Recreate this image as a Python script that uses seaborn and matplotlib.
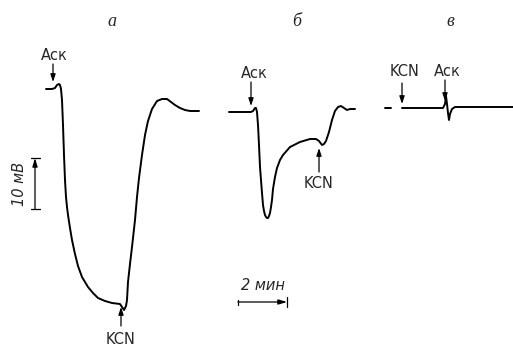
import matplotlib
matplotlib.use('Agg')
import matplotlib.pyplot as plt
import seaborn as sns
import pandas as pd

# traces (x = time, y = potential, in picture units)
trace_a_x = [46, 52, 55, 57, 59, 60, 61, 62, 63, 64, 65, 66, 67, 68, 70, 72, 75, 78, 82, 88,
             93, 98, 105, 112, 120, 122, 124, 126, 127, 128, 130, 132, 135, 137, 139, 142,
             145, 148, 152, 157, 162, 167, 171, 175, 180, 185, 190, 199]
trace_a_y = [89, 89, 88, 85, 84, 85, 89, 100, 125, 155, 180, 197, 207, 215, 228, 240, 254, 266,
             277, 287, 293, 298, 301, 303, 304, 307, 310, 306, 300, 282, 264, 247, 220, 197,
             178, 155, 135, 121, 109, 101, 99, 99, 102, 105, 108, 110, 111, 111]

trace_b_x = [229, 251, 253, 255, 256, 257, 258, 259, 260, 262, 263, 264, 265, 266, 267, 268,
             269, 270, 271, 272, 273, 275, 277, 280, 283, 290, 300, 310, 316, 319, 322, 324,
             326, 329, 332, 335, 338, 341, 344, 347, 350, 355]
trace_b_y = [112, 112, 111, 108, 108, 112, 125, 145, 167, 193, 205, 211, 215, 217, 218, 218,
             216, 213, 207, 200, 189, 177, 168, 160, 155, 147, 142, 139, 139, 141, 145, 144,
             141, 132, 120, 111, 107, 106, 108, 110, 109, 109]

trace_c_pre_x = [385, 391]
trace_c_pre_y = [108, 108]
trace_c_x = [402, 443, 445, 446, 447, 448, 449, 450, 452, 455, 513]
trace_c_y = [108, 108, 104, 96, 104, 113, 120, 114, 109, 107, 107]

panel_labels = ['а', 'б', 'в']
panel_x = [112, 297, 450]

# (text, text x, text y, arrow tail y, arrow head y, arrow x)
marks = [
    ('Аск', 54, 56, 64, 82, 53),
    ('KCN', 121, 339, 326, 307, 121),
    ('Аск', 254, 73, 82, 106, 251),
    ('KCN', 319, 183, 172, 148, 319),
    ('KCN', 405, 72, 83, 104, 402),
    ('Аск', 447, 72, 80, 101, 445),
]

sns.set_style('white')
plt.rcParams['font.family'] = ['DejaVu Sans']

fig = plt.figure(figsize=(5.13, 3.52), dpi=100)
ax = fig.add_axes([0, 0, 1, 1])

lw = 1.4
for xs, ys in [(trace_a_x, trace_a_y), (trace_b_x, trace_b_y),
               (trace_c_pre_x, trace_c_pre_y), (trace_c_x, trace_c_y)]:
    df = pd.DataFrame({'t': xs, 'v': ys})
    sns.lineplot(data=df, x='t', y='v', sort=False, estimator=None,
                 color='black', lw=lw, ax=ax)

for lab, px in zip(panel_labels, panel_x):
    ax.text(px, 22, lab, fontsize=13, style='italic', family=['Liberation Serif', 'DejaVu Serif'],
            ha='center', va='center')

for txt, tx, ty, y0, y1, axx in marks:
    ax.text(tx, ty, txt, fontsize=10.5, ha='center', va='center')
    ax.annotate('', xy=(axx, y1), xytext=(axx, y0),
                arrowprops=dict(arrowstyle='-|>,head_length=0.45,head_width=0.15',
                                color='black', lw=0.9, shrinkA=0, shrinkB=0))

# 10 mV scale bar
ax.annotate('', xy=(35, 158), xytext=(35, 209),
            arrowprops=dict(arrowstyle='-|>,head_length=0.5,head_width=0.15',
                            color='black', lw=0.9, shrinkA=0, shrinkB=0))
ax.plot([31, 40], [158, 158], color='black', lw=0.9)
ax.plot([31, 40], [209, 209], color='black', lw=0.9)
ax.text(20, 184, '10 мВ', rotation=90, fontsize=10.5, style='italic',
        ha='center', va='center')

# 2 min scale bar
ax.annotate('', xy=(287, 302), xytext=(238, 302),
            arrowprops=dict(arrowstyle='-|>,head_length=0.5,head_width=0.15',
                            color='black', lw=0.9, shrinkA=0, shrinkB=0))
ax.plot([238, 238], [300, 305], color='black', lw=0.9)
ax.plot([287, 287], [297, 307], color='black', lw=0.9)
ax.text(263, 286, '2 мин', fontsize=10.5, style='italic', ha='center', va='center')

ax.set_xlim(0, 513)
ax.set_ylim(352, 0)
ax.axis('off')

fig.savefig('out.png', dpi=100)
plt.close(fig)
